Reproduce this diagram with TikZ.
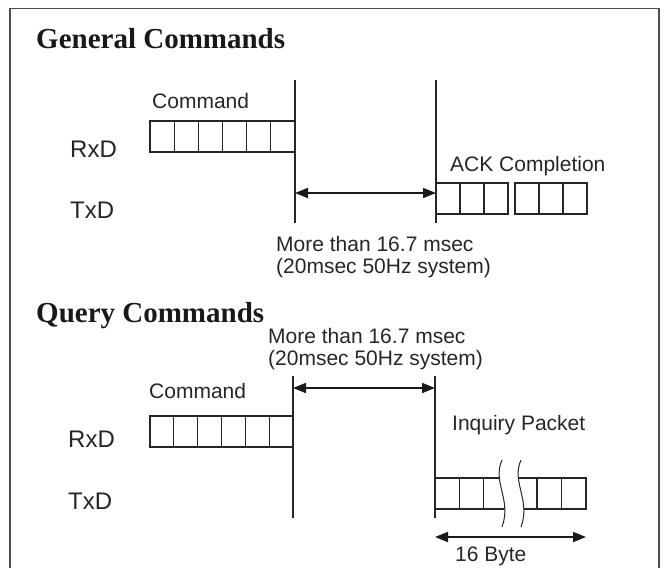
\documentclass[tikz,border=0pt]{standalone}
\usepackage{fontspec}
\setmainfont{Liberation Serif}
\newfontfamily\helv{Liberation Sans}
\usetikzlibrary{arrows.meta}
\tikzset{
  titre/.style={font=\fontsize{29}{29}\selectfont\bfseries, anchor=base west, inner sep=0pt, text=black!90},
  texte/.style={font=\helv\fontsize{21}{22}\selectfont, anchor=base west, inner sep=0pt, text=black!85},
  signal/.style={font=\helv\fontsize{24}{24}\selectfont, anchor=base west, inner sep=0pt, text=black!85},
  octet/.style={draw=black!85, line width=1.2pt, minimum width=24.2pt, minimum height=31pt, inner sep=0pt, outer sep=0pt, anchor=north west},
  repere/.style={draw=black!85, line width=1.1pt},
  duree/.style={{Triangle[length=13pt,width=10pt]}-{Triangle[length=13pt,width=10pt]}, draw=black!90, line width=1.8pt},
  vague/.style={draw=black!85, line width=1pt},
}
\begin{document}
\begin{tikzpicture}[x=1pt,y=-1pt]
	\useasboundingbox (0,0) rectangle (664,568);
	% le cadre
	\draw[line width=1.5pt, black!70] (10,568) -- (10,8.5) -- (659,8.5) -- (659,568);

	% commandes generales
	\node[titre] (gtitre) at (36,48) {General Commands};
	\node[texte] (gcmd) at (152,108) {Command};
	\node[signal] (grx) at (70,157) {RxD};
	\node[signal] (gtx) at (70,218) {TxD};
	\foreach \i in {0,...,5}
		\node[octet] (gr\i) at ({150+24.17*\i},121) {};
	\coordinate (gh1) at (295,80);
	\coordinate (gb1) at (295,223);
	\coordinate (gh2) at (436,80);
	\coordinate (gb2) at (436,223);
	\draw[repere] (gh1) -- (gb1);
	\draw[repere] (gh2) -- (gb2);
	\coordinate (ga1) at (295,193);
	\coordinate (ga2) at (436,193);
	\draw[duree] (ga1) -- (ga2);
	\node[texte] (gack) at (450,171) {ACK Completion};
	\foreach \i in {0,1,2}
		\node[octet, minimum width=24pt] (gt\i) at ({436+24*\i},183) {};
	\foreach \i in {0,1,2}
		\node[octet, minimum width=24pt] (gu\i) at ({515+24*\i},183) {};
	\node[texte] (gdelai) at (276,251) {More than 16.7 msec};
	\node[texte] (gdelai2) at (276,273) {(20msec 50Hz system)};

	% commandes de requete
	\node[titre] (qtitre) at (36,322) {Query Commands};
	\node[texte] (qdelai) at (268,343) {More than 16.7 msec};
	\node[texte] (qdelai2) at (268,365) {(20msec 50Hz system)};
	\coordinate (qh1) at (293,376);
	\coordinate (qb1) at (293,518);
	\coordinate (qh2) at (435,376);
	\coordinate (qb2) at (435,518);
	\draw[repere] (qh1) -- (qb1);
	\draw[repere] (qh2) -- (qb2);
	\coordinate (qa1) at (293,388);
	\coordinate (qa2) at (435,388);
	\draw[duree] (qa1) -- (qa2);
	\node[texte] (qcmd) at (149,398) {Command};
	\node[signal] (qrx) at (68,447) {RxD};
	\node[signal] (qtx) at (68,509) {TxD};
	\foreach \i in {0,...,5}
		\node[octet, minimum width=23.83pt] (qr\i) at ({150+23.83*\i},416) {};
	\node[texte] (qinq) at (452,430) {Inquiry Packet};
	\foreach \i in {0,1,2}
		\node[octet, minimum width=24.3pt] (qt\i) at ({435+24.3*\i},478) {};
	\foreach \i in {0,1}
		\node[octet, minimum width=24.5pt] (qu\i) at ({537+24.5*\i},478) {};
	\draw[repere, line width=1.2pt] (qt2.north east) -- (qu0.north west);
	\draw[repere, line width=1.2pt] (qt2.south east) -- (qu0.south west);
	% la coupure
	\fill[white] (502,460) .. controls (492,482) and (512,500) .. (502,527)
		-- (521,527) .. controls (531,500) and (511,482) .. (521,460) -- cycle;
	\draw[vague] (502,460) .. controls (492,482) and (512,500) .. (502,527);
	\draw[vague] (521,460) .. controls (511,482) and (531,500) .. (521,527);
	\coordinate (qo1) at (435,537);
	\coordinate (qo2) at (586,537);
	\draw[duree] (qo1) -- (qo2);
	\node[texte] (qoct) at (455,561) {16 Byte};
\end{tikzpicture}
\end{document}
